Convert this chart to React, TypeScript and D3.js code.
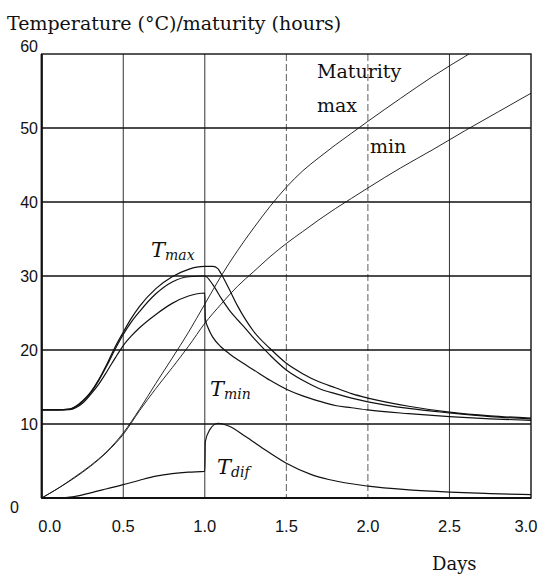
import React from 'react';
import * as d3 from 'd3';

type Pt = [number, number];

// axis ticks
const xTicks = [0, 0.5, 1, 1.5, 2, 2.5, 3];
const xTickLabels = ['0.0', '0.5', '1.0', '1.5', '2.0', '2.5', '3.0'];
const yTicks = [0, 10, 20, 30, 40, 50, 60];
const dashedDays = [1.5, 2];

// temperature curves (day, °C)
const tMax: Pt[] = [
  [0, 11.9], [0.1, 11.9], [0.17, 12.0], [0.25, 13.1], [0.3, 14.3], [0.35, 16.0], [0.4, 18.1],
  [0.45, 20.4], [0.5, 22.4], [0.55, 24.3], [0.6, 25.9], [0.7, 28.3], [0.8, 29.9], [0.9, 30.9],
  [0.95, 31.2], [1.0, 31.3], [1.05, 31.3], [1.08, 31.0], [1.1, 30.3], [1.15, 28.2], [1.2, 26.0],
  [1.25, 24.1], [1.3, 22.5], [1.4, 20.2], [1.5, 18.2], [1.6, 16.8], [1.7, 15.7], [1.8, 14.9],
  [1.9, 14.1], [2.0, 13.5], [2.25, 12.4], [2.5, 11.6], [2.75, 11.1], [3.0, 10.8],
];
const tMean: Pt[] = [
  [0, 11.9], [0.1, 11.9], [0.17, 12.0], [0.25, 13.0], [0.3, 14.2], [0.35, 15.9], [0.4, 17.9],
  [0.45, 20.1], [0.5, 22.1], [0.55, 23.8], [0.6, 25.2], [0.7, 27.6], [0.8, 29.2], [0.9, 29.9],
  [1.0, 30.0], [1.05, 28.8], [1.1, 27.0], [1.15, 25.4], [1.2, 24.1], [1.25, 22.9], [1.3, 21.6],
  [1.4, 19.3], [1.5, 17.3], [1.6, 15.9], [1.7, 14.8], [1.8, 14.1], [1.9, 13.5], [2.0, 13.0],
  [2.25, 12.1], [2.5, 11.5], [2.75, 11.0], [3.0, 10.7],
];
const tMin: Pt[] = [
  [0, 11.9], [0.1, 11.9], [0.17, 11.95], [0.25, 12.8], [0.3, 14.0], [0.35, 15.4], [0.4, 17.1],
  [0.45, 18.9], [0.5, 20.6], [0.55, 21.9], [0.6, 23.0], [0.7, 24.8], [0.8, 26.3], [0.9, 27.3],
  [1.0, 27.7], [1.003, 24.2], [1.02, 23.0], [1.05, 21.7], [1.1, 20.4], [1.15, 19.5], [1.2, 18.7],
  [1.25, 18.0], [1.3, 17.3], [1.4, 15.9], [1.5, 14.7], [1.6, 13.8], [1.7, 13.1], [1.8, 12.5],
  [1.9, 12.2], [2.0, 11.9], [2.25, 11.4], [2.5, 11.0], [2.75, 10.7], [3.0, 10.5],
];
const tDif: Pt[] = [
  [0, 0], [0.1, 0], [0.2, 0.2], [0.3, 0.7], [0.4, 1.25], [0.5, 1.8], [0.6, 2.4], [0.7, 2.95],
  [0.8, 3.3], [0.9, 3.5], [1.0, 3.6], [1.003, 7.6], [1.03, 9.2], [1.08, 10.1], [1.15, 9.7],
  [1.25, 8.3], [1.35, 6.8], [1.5, 4.7], [1.65, 3.2], [1.76, 2.5], [2.0, 1.6], [2.25, 1.1],
  [2.5, 0.8], [2.75, 0.6], [3.0, 0.45],
];

// maturity curves (day, hours)
const maturityMax: Pt[] = [
  [0, 0], [0.1, 1.3], [0.2, 2.8], [0.3, 4.4], [0.4, 6.3], [0.5, 8.8], [0.6, 12.0], [0.7, 15.5],
  [0.8, 18.9], [0.9, 22.4], [1.0, 26.2], [1.1, 30.0], [1.2, 33.4], [1.3, 36.5], [1.4, 39.4],
  [1.5, 42.0], [1.6, 44.2], [1.7, 46.0], [1.8, 47.7], [1.9, 49.3], [2.0, 50.9], [2.2, 54.0],
  [2.4, 57.0], [2.62, 60.0],
];
const maturityMin: Pt[] = [
  [0, 0], [0.1, 1.3], [0.2, 2.7], [0.3, 4.3], [0.4, 6.2], [0.5, 8.6], [0.6, 11.8], [0.7, 14.8],
  [0.8, 17.6], [0.9, 20.5], [1.0, 23.6], [1.1, 26.2], [1.2, 28.6], [1.3, 30.6], [1.4, 32.6],
  [1.5, 34.4], [1.6, 36.0], [1.7, 37.6], [1.8, 39.1], [1.9, 40.5], [2.0, 41.9], [2.2, 44.6],
  [2.4, 47.1], [2.6, 49.7], [2.8, 52.2], [3.0, 54.7],
];

const serif = '"DejaVu Serif", "Liberation Serif", serif';
const sans = '"Liberation Sans", Arial, sans-serif';

export default function App() {
  const width = 540;
  const height = 577;
  const x = d3.scaleLinear().domain([0, 3]).range([41.7, 531]);
  const y = d3.scaleLinear().domain([0, 60]).range([498, 54]);

  const line = d3.line<Pt>()
    .x(d => x(d[0]))
    .y(d => y(d[1]))
    .curve(d3.curveMonotoneX);

  const tempSeries = [tMax, tMean, tMin, tDif];
  const matSeries = [maturityMax, maturityMin];

  return (
    <svg width={width} height={height}
      style={{ position: 'absolute', left: 0, top: 0, background: '#fff' }}>
      {/* title */}
      <text x={7} y={30} fontFamily={serif} fontSize={19} fill="#111">
        Temperature (°C)/maturity (hours)
      </text>

      {/* vertical grid */}
      {xTicks.slice(1, -1).map(t => (
        <line key={'vx' + t} x1={x(t)} x2={x(t)} y1={y(60)} y2={y(0)}
          stroke="#333" strokeWidth={dashedDays.includes(t) ? 0.8 : 1}
          strokeDasharray={dashedDays.includes(t) ? '7,3' : undefined} />
      ))}

      {/* horizontal grid */}
      {yTicks.slice(1, -1).map(t => (
        <line key={'hy' + t} x1={x(0)} x2={x(3)} y1={y(t)} y2={y(t)}
          stroke="#111" strokeWidth={t === 10 ? 1.7 : 1.3} />
      ))}

      {/* frame */}
      <rect x={x(0)} y={y(60)} width={x(3) - x(0)} height={y(0) - y(60)}
        fill="none" stroke="#111" strokeWidth={1.4} />
      <line x1={x(0)} x2={x(0)} y1={y(60)} y2={y(0)} stroke="#111" strokeWidth={2.2} />
      <line x1={x(0)} x2={x(3)} y1={y(0)} y2={y(0)} stroke="#111" strokeWidth={2.2} />

      {/* curves */}
      {matSeries.map((s, i) => (
        <path key={'m' + i} d={line(s) || ''} fill="none" stroke="#111" strokeWidth={0.9} />
      ))}
      {tempSeries.map((s, i) => (
        <path key={'t' + i} d={line(s) || ''} fill="none" stroke="#111" strokeWidth={1.2} />
      ))}

      {/* y tick labels */}
      {yTicks.map(t => {
        let tx = 38;
        let ty = y(t) + 5.5;
        let anchor = 'end';
        if (t === 60) ty = y(t) - 2.5;
        if (t === 0) { tx = 10; ty = y(t) + 15; anchor = 'start'; }
        return (
          <text key={'yl' + t} x={tx} y={ty} textAnchor={anchor}
            fontFamily={sans} fontSize={16} fill="#111">{t}</text>
        );
      })}

      {/* x tick labels */}
      {xTicks.map((t, i) => {
        let dx = 0;
        if (i === 0) dx = 8;
        if (i === xTicks.length - 1) dx = -5;
        return (
          <text key={'xl' + t} x={x(t) + dx} y={532} textAnchor="middle"
            fontFamily={sans} fontSize={16.5} fill="#111">{xTickLabels[i]}</text>
        );
      })}

      <text x={432} y={570} fontFamily={serif} fontSize={18} fill="#111">Days</text>

      {/* curve labels */}
      <text x={317} y={78} fontFamily={serif} fontSize={19} fill="#111">Maturity</text>
      <text x={317} y={112} fontFamily={serif} fontSize={19} fill="#111">max</text>
      <text x={370} y={153} fontFamily={serif} fontSize={19} fill="#111">min</text>

      <text x={151} y={257} fontFamily={serif} fontStyle="italic" fontSize={21} fill="#111">
        T<tspan fontSize={14} dy={3}>max</tspan>
      </text>
      <text x={210} y={396} fontFamily={serif} fontStyle="italic" fontSize={21} fill="#111">
        T<tspan fontSize={14} dy={3}>min</tspan>
      </text>
      <text x={217} y={474} fontFamily={serif} fontStyle="italic" fontSize={21} fill="#111">
        T<tspan fontSize={14} dy={3}>dif</tspan>
      </text>
    </svg>
  );
}
